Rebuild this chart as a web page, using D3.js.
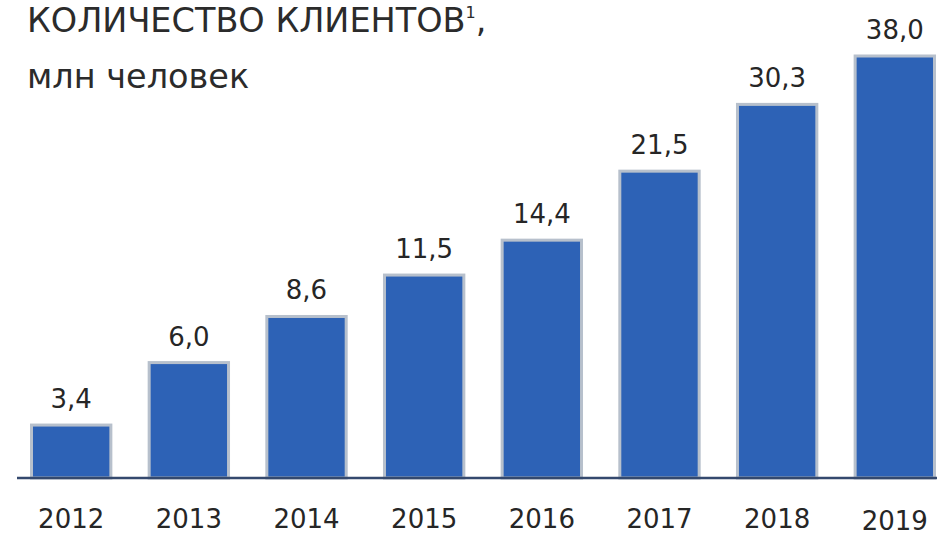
<!DOCTYPE html>
<html>
<head>
<meta charset="utf-8">
<script src="https://cdn.jsdelivr.net/npm/d3@7"></script>
<style>
  html, body { margin: 0; padding: 0; background: #ffffff; }
  svg { display: block; }
  text { font-family: "DejaVu Sans", Verdana, sans-serif; }
</style>
</head>
<body>
<svg id="chart" width="937" height="536"></svg>
<script>
// ---- data ----
const years = ["2012", "2013", "2014", "2015", "2016", "2017", "2018", "2019"];
const clients = [3.4, 6.0, 8.6, 11.5, 14.4, 21.5, 30.3, 38.0];
const valueLabels = ["3,4", "6,0", "8,6", "11,5", "14,4", "21,5", "30,3", "38,0"];
const titleLine1 = "КОЛИЧЕСТВО КЛИЕНТОВ";
const titleNote = "1";
const titleLine2 = "млн человек";

// ---- layout ----
const W = 937, H = 536;
const baseY = 478, topY = 56;
const svg = d3.select("#chart");

const x = d3.scaleBand()
  .domain(years)
  .range([30, 936])
  .paddingInner(0.3)
  .paddingOuter(0);

// the infographic uses a compressed (power) vertical scale
const y = d3.scalePow()
  .exponent(0.33)
  .domain([1.9, d3.max(clients)])
  .range([baseY, topY]);

const data = years.map((yr, i) => ({ year: yr, value: clients[i], label: valueLabels[i] }));

// bars
svg.append("g")
  .selectAll("rect")
  .data(data)
  .join("rect")
  .attr("x", d => x(d.year) + 1.5)
  .attr("y", d => y(d.value))
  .attr("width", x.bandwidth() - 3)
  .attr("height", d => baseY - y(d.value))
  .attr("fill", "#2d62b6")
  .attr("stroke", "#b7c0cc")
  .attr("stroke-width", 3);

// axis line
svg.append("line")
  .attr("x1", 17).attr("x2", W)
  .attr("y1", baseY).attr("y2", baseY)
  .attr("stroke", "#34496e")
  .attr("stroke-width", 2.5);

// value labels
svg.append("g")
  .selectAll("text")
  .data(data)
  .join("text")
  .attr("x", d => x(d.year) + x.bandwidth() / 2)
  .attr("y", d => y(d.value) - 17)
  .attr("text-anchor", "middle")
  .attr("font-size", 26)
  .attr("fill", "#262626")
  .text(d => d.label);

// year axis labels
const xAxis = d3.axisBottom(x).tickSize(0).tickPadding(0);
const gx = svg.append("g")
  .attr("transform", `translate(0,${baseY})`)
  .call(xAxis);
gx.select(".domain").remove();
gx.selectAll(".tick text")
  .attr("font-size", 26)
  .attr("fill", "#262626")
  .attr("dy", null)
  .attr("y", (d, i) => i === years.length - 1 ? 51.5 : 50)
  .style("font-family", "'DejaVu Sans', Verdana, sans-serif");

// title
const t1 = svg.append("text")
  .attr("x", 27).attr("y", 32)
  .attr("font-size", 33.5)
  .attr("fill", "#2b2b2b");
t1.append("tspan").text(titleLine1);
t1.append("tspan").attr("font-size", 16).attr("dy", -14).text(titleNote);
t1.append("tspan").attr("dy", 14).text(",");

svg.append("text")
  .attr("x", 27).attr("y", 88)
  .attr("font-size", 33.5)
  .attr("fill", "#2b2b2b")
  .text(titleLine2);
</script>
</body>
</html>
